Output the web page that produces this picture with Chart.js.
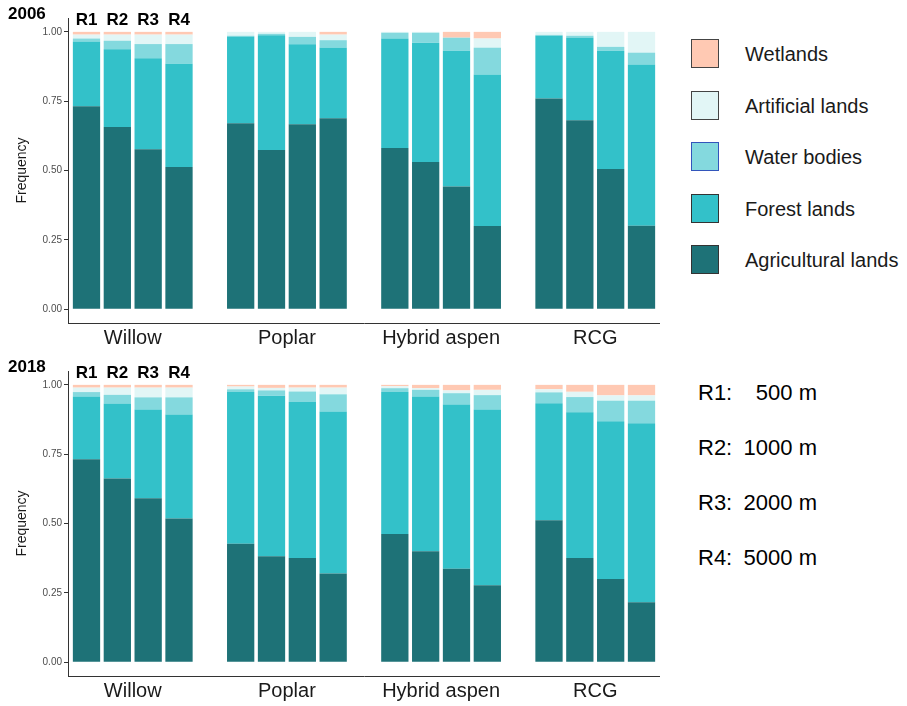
<!DOCTYPE html>
<html>
<head>
<meta charset="utf-8">
<title>Land cover around plantations, 2006 and 2018</title>
<script src="https://cdn.jsdelivr.net/npm/chart.js@4/dist/chart.umd.min.js"></script>
<style>
  body { margin: 0; background: #fff; font-family: "Liberation Sans", Arial, sans-serif; }
  #page { position: relative; width: 907px; height: 706px; overflow: hidden; }
  .panel { position: absolute; left: 0; width: 660px; height: 350px; }
  .panel canvas { position: absolute; left: 0; top: 0; }
  .year { position: absolute; left: 8px; top: 4px; font-weight: bold; font-size: 17px; color: #000; }
  .legend-item { position: absolute; left: 691px; height: 30px; }
  .swatch { position: absolute; left: 0; top: 0; width: 26px; height: 27px; border: 1.5px solid #333; }
  .legend-text { position: absolute; left: 54px; top: 0; line-height: 30px; font-size: 20px; color: #1a1a1a; white-space: nowrap; }
  .ring-row { position: absolute; left: 698px; width: 119px; height: 30px; font-size: 22px; color: #000; line-height: 30px; }
  .ring-row .dist { position: absolute; right: 0; top: 0; }
</style>
</head>
<body>
<div id="page">
  <div class="panel" style="top:0px"><canvas id="c2006" width="660" height="350"></canvas><div class="year">2006</div></div>
  <div class="panel" style="top:353px"><canvas id="c2018" width="660" height="350"></canvas><div class="year">2018</div></div>
</div>
<script>
// Plantation types, buffer rings and land-cover classes
const groups = ['Willow', 'Poplar', 'Hybrid aspen', 'RCG'];
const rings = ['R1', 'R2', 'R3', 'R4'];
const ringDistances = ['500 m', '1000 m', '2000 m', '5000 m'];
const classes = ['Agricultural lands', 'Forest lands', 'Water bodies', 'Artificial lands', 'Wetlands'];
const yTicks = [0, 0.25, 0.5, 0.75, 1];

// Share of each class per bar; order: Willow R1-R4, Poplar R1-R4, Hybrid aspen R1-R4, RCG R1-R4
const agri2006       = [0.732, 0.657, 0.577, 0.513, 0.670, 0.574, 0.667, 0.688, 0.581, 0.531, 0.442, 0.300, 0.760, 0.681, 0.505, 0.301];
const forest2006     = [0.232, 0.280, 0.328, 0.372, 0.312, 0.414, 0.288, 0.256, 0.395, 0.430, 0.490, 0.545, 0.226, 0.299, 0.427, 0.580];
const water2006      = [0.012, 0.031, 0.051, 0.071, 0.004, 0.005, 0.027, 0.026, 0.021, 0.036, 0.047, 0.098, 0.003, 0.006, 0.014, 0.044];
const artificial2006 = [0.014, 0.022, 0.034, 0.034, 0.014, 0.007, 0.018, 0.020, 0.003, 0.003, 0.000, 0.033, 0.011, 0.014, 0.054, 0.075];
const wetlands2006   = [0.010, 0.010, 0.010, 0.010, 0.000, 0.000, 0.000, 0.010, 0.000, 0.000, 0.021, 0.024, 0.000, 0.000, 0.000, 0.000];

const agri2018       = [0.732, 0.662, 0.591, 0.518, 0.427, 0.382, 0.376, 0.320, 0.462, 0.400, 0.337, 0.277, 0.512, 0.376, 0.300, 0.216];
const forest2018     = [0.226, 0.271, 0.320, 0.375, 0.547, 0.579, 0.562, 0.584, 0.512, 0.558, 0.592, 0.634, 0.422, 0.525, 0.569, 0.646];
const water2018      = [0.016, 0.031, 0.044, 0.062, 0.010, 0.019, 0.038, 0.062, 0.014, 0.024, 0.041, 0.052, 0.039, 0.055, 0.074, 0.081];
const artificial2018 = [0.016, 0.026, 0.035, 0.035, 0.010, 0.009, 0.014, 0.024, 0.007, 0.006, 0.010, 0.019, 0.011, 0.019, 0.019, 0.019];
const wetlands2018   = [0.010, 0.010, 0.010, 0.010, 0.006, 0.011, 0.010, 0.010, 0.005, 0.012, 0.020, 0.018, 0.016, 0.025, 0.038, 0.038];

const classColors = ['#1e7277', '#33c1c9', '#84d9de', '#e2f6f6', '#ffc9b3'];
const legendBorders = ['#333333', '#333333', '#3355bb', '#444444', '#444444'];
const FONT = '"Liberation Sans", Arial, sans-serif';

// Bars sit four to a group with one empty slot between groups
const barX = i => Math.floor(i / rings.length) * (rings.length + 1) + (i % rings.length);
const groupCenter = g => g * (rings.length + 1) + (rings.length - 1) / 2;

const ringLabels = {
  id: 'ringLabels',
  afterDatasetsDraw(chart) {
    const { ctx, scales: { x, y } } = chart;
    ctx.save();
    ctx.font = 'bold 17px ' + FONT;
    ctx.fillStyle = '#000';
    ctx.textAlign = 'center';
    ctx.textBaseline = 'middle';
    rings.forEach((r, i) => ctx.fillText(r, x.getPixelForValue(barX(i)), y.getPixelForValue(1) - 12));
    ctx.restore();
  }
};

function makeChart(id, series) {
  const datasets = classes.map((name, k) => ({
    label: name,
    data: series[k].map((v, i) => ({ x: barX(i), y: v })),
    backgroundColor: classColors[k],
    borderWidth: 0,
    barPercentage: 0.885,
    categoryPercentage: 1
  }));
  return new Chart(document.getElementById(id), {
    type: 'bar',
    data: { datasets },
    plugins: [ringLabels],
    options: {
      responsive: false,
      animation: false,
      layout: { padding: { top: 18, left: 0, right: 0, bottom: 0 } },
      plugins: { legend: { display: false }, tooltip: { enabled: false } },
      scales: {
        x: {
          type: 'linear', stacked: true, offset: false, min: -0.6, max: 18.6,
          grid: { display: false, drawTicks: false, offset: false },
          border: { display: true, color: '#333', width: 1 },
          afterBuildTicks: s => { s.ticks = groups.map((g, gi) => ({ value: groupCenter(gi) })); },
          ticks: { autoSkip: false, maxRotation: 0, padding: 3, color: '#1a1a1a',
                   font: { size: 20, family: FONT }, callback: (v, i) => groups[i] },
          afterFit: s => { s.height = 27; }
        },
        y: {
          type: 'linear', stacked: true, min: -0.05, max: 1.05,
          grid: { display: true, drawOnChartArea: false, drawTicks: true, tickLength: 4, tickColor: '#333' },
          border: { display: true, color: '#333', width: 1 },
          afterBuildTicks: s => { s.ticks = yTicks.map(v => ({ value: v })); },
          ticks: { padding: 2, color: '#4d4d4d', font: { size: 10, family: FONT }, callback: v => v.toFixed(2) },
          title: { display: true, text: 'Frequency', color: '#1a1a1a', font: { size: 14, family: FONT }, padding: { top: 14, bottom: 0 } },
          afterFit: s => { s.width = 68; }
        }
      }
    }
  });
}

makeChart('c2006', [agri2006, forest2006, water2006, artificial2006, wetlands2006]);
makeChart('c2018', [agri2018, forest2018, water2018, artificial2018, wetlands2018]);

// Legend, top entry = top of the stack
const page = document.getElementById('page');
[4, 3, 2, 1, 0].forEach((k, row) => {
  const item = document.createElement('div');
  item.className = 'legend-item';
  item.style.top = (39 + row * 51.5) + 'px';
  item.innerHTML = '<div class="swatch" style="background:' + classColors[k] + ';border-color:' + legendBorders[k] + '"></div>' +
                   '<div class="legend-text">' + classes[k] + '</div>';
  page.appendChild(item);
});

// Ring radii
rings.forEach((r, i) => {
  const row = document.createElement('div');
  row.className = 'ring-row';
  row.style.top = (378 + i * 55) + 'px';
  row.innerHTML = '<span>' + r + ':</span><span class="dist">' + ringDistances[i] + '</span>';
  page.appendChild(row);
});
</script>
</body>
</html>
